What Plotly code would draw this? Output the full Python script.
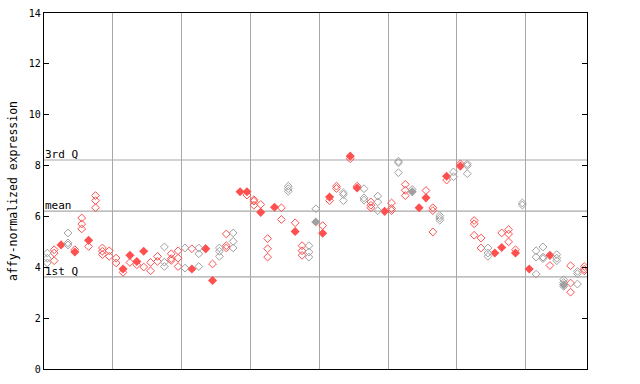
import plotly.graph_objects as go

# values per sample (open diamonds) and overlapping/solid diamonds
open_vals = [
    [4.56, 4.36, 4.17], [4.69, 4.56, 4.26], [], [5.35, 4.96, 4.88], [4.69],
    [5.94, 5.70, 5.51], [4.82], [6.82, 6.62, 6.34], [4.76, 4.63, 4.50], [4.65, 4.43],
    [4.36, 4.17], [3.80], [4.19], [4.10], [4.01],
    [4.19, 3.86], [4.43, 4.23], [4.80, 4.20, 4.03], [4.53, 4.27, 4.34], [4.65, 4.36, 4.03],
    [4.76, 3.97], [4.73], [4.76, 4.53, 4.03], [4.73], [4.13],
    [4.76, 4.63, 4.43], [5.31, 4.85, 4.76], [5.35, 5.02, 4.76], [], [6.84],
    [6.66, 6.60, 6.44], [6.47], [5.13, 4.73, 4.40], [], [6.34, 5.88],
    [7.19, 7.09, 6.99], [5.75], [4.85, 4.65, 4.47], [4.85, 4.60, 4.40], [6.30],
    [5.64], [6.62], [7.19, 7.10], [6.93, 6.86, 6.62], [8.27],
    [7.19], [7.09, 6.73, 6.64], [6.57, 6.44, 6.34], [6.80, 6.57, 6.23], [],
    [6.53, 6.31, 6.23], [8.17, 8.11, 7.72], [7.26, 7.03, 6.82], [7.06], [],
    [7.02], [6.34, 6.23, 5.39], [6.03, 5.94, 5.85], [7.43], [7.75, 7.56],
    [8.07], [8.07, 8.00, 7.68], [5.84, 5.71, 5.26], [5.15, 4.76], [4.76, 4.56, 4.43],
    [], [5.35], [5.48, 5.31, 5.00], [4.69], [6.53, 6.45],
    [], [4.65, 4.40, 3.73], [4.80, 4.40, 4.34], [4.07], [4.50, 4.36, 4.26],
    [3.51, 3.40, 3.25], [4.06, 3.38, 3.02], [3.84, 3.75, 3.34], [4.03, 3.93, 3.86],
]
solid_vals = [
    [], [], [4.88], [], [4.60],
    [], [5.06], [], [], [],
    [], [3.93], [4.47], [4.23], [4.63],
    [], [], [], [], [],
    [], [3.93], [], [4.73], [3.48],
    [], [], [], [6.97], [6.97],
    [], [6.16], [], [6.36], [],
    [], [5.41], [], [], [5.78],
    [5.34], [6.76], [], [], [8.37],
    [7.12], [], [], [], [6.20],
    [], [], [], [6.97], [6.34],
    [6.73], [], [], [7.58], [],
    [7.98], [], [], [], [],
    [4.56], [4.78], [], [4.56], [],
    [3.93], [], [], [4.47], [],
    [3.31], [], [], [],
]
sample_color = list(
    "grrgrrrrrr"
    "rrrrrrrgrr"
    "grgrrgrgrr"
    "rrrrrgrrgg"
    "rrrgrrgrgr"
    "rgrgrrrgrg"
    "rgrrgrrrrg"
    "rggrggrgr"
)
q1, mean_v, q3 = 3.62, 6.21, 8.22
y_ticks = [0, 2, 4, 6, 8, 10, 12, 14]
grid_x = [9.5, 19.5, 29.5, 39.5, 49.5, 59.5, 69.5]

RED = "#ff5050"
GREY = "#a0a0a0"

fig = go.Figure()
for col_key, col in (("r", RED), ("g", GREY)):
    xo, yo, xs, ys = [], [], [], []
    for i, (ov, sv) in enumerate(zip(open_vals, solid_vals)):
        if sample_color[i] != col_key:
            continue
        xo += [i] * len(ov); yo += ov
        xs += [i] * len(sv); ys += sv
    fig.add_trace(go.Scatter(x=xo, y=yo, mode="markers", showlegend=False,
                             marker=dict(symbol="diamond-open", size=6, color=col,
                                         line=dict(width=1, color=col))))
    fig.add_trace(go.Scatter(x=xs, y=ys, mode="markers", showlegend=False,
                             marker=dict(symbol="diamond", size=7, color=col,
                                         line=dict(width=0))))

for v in (q1, mean_v, q3):
    fig.add_shape(type="line", xref="paper", x0=0, x1=1, y0=v, y1=v,
                  line=dict(color="#a8a8a8", width=1.2), layer="below")

for label, v in (("3rd Q", q3), ("mean", mean_v), ("1st Q", q1)):
    fig.add_annotation(x=0, xref="paper", y=v, yref="y", text=label,
                       showarrow=False, xanchor="left", yanchor="bottom",
                       xshift=-1, yshift=-3,
                       font=dict(family="DejaVu Sans Mono", size=11, color="black"))

fig.update_layout(
    width=640, height=384,
    margin=dict(l=44, r=53, t=13, b=15, autoexpand=False),
    paper_bgcolor="white", plot_bgcolor="white",
    font=dict(family="DejaVu Sans Mono", size=10, color="black"),
    xaxis=dict(range=[-0.48, 78.39], tickvals=grid_x, showticklabels=False,
               ticks="", showgrid=True, gridcolor="#a8a8a8", gridwidth=1.2,
               zeroline=False, showline=True, linecolor="black", linewidth=1.2,
               mirror=True, automargin=False),
    yaxis=dict(range=[0, 14], tickvals=y_ticks, ticks="inside", ticklen=5,
               tickcolor="black", showgrid=False, zeroline=False, automargin=False,
               showline=True, linecolor="black", linewidth=1.2, mirror="ticks",
               title=dict(text="affy-normalized expression",
                          font=dict(family="DejaVu Sans Mono", size=11.5),
                          standoff=8),
               tickfont=dict(family="DejaVu Sans Mono", size=10)),
)

fig.write_html("out.html")
